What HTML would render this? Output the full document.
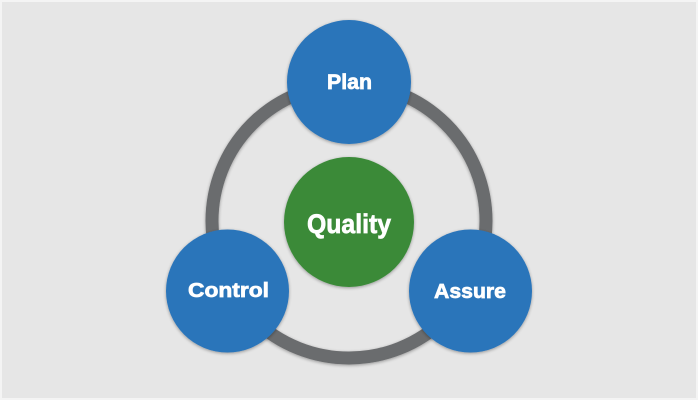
<!DOCTYPE html>
<html>
<head>
<meta charset="utf-8">
<style>
  html, body { margin: 0; padding: 0; background: #f4f4f4; }
  body { width: 698px; height: 400px; overflow: hidden; }
  svg { display: block; }
  text { font-family: "Liberation Sans", "DejaVu Sans", sans-serif; font-weight: bold; fill: #ffffff; stroke: #ffffff; stroke-width: 0.7; }
</style>
</head>
<body>
<svg width="698" height="400" viewBox="0 0 698 400" xmlns="http://www.w3.org/2000/svg">
  <defs>
    <filter id="sh" x="-20%" y="-20%" width="140%" height="140%">
      <feGaussianBlur in="SourceAlpha" stdDeviation="1.5"/>
      <feOffset dx="0" dy="1" result="b"/>
      <feComponentTransfer><feFuncA type="linear" slope="0.35"/></feComponentTransfer>
      <feMerge><feMergeNode/><feMergeNode in="SourceGraphic"/></feMerge>
    </filter>
  </defs>
  <rect x="2" y="2" width="694" height="396" fill="#e6e6e6"/>
  <circle cx="349" cy="221" r="137" fill="none" stroke="#6b6c6e" stroke-width="13" filter="url(#sh)"/>
  <circle cx="349" cy="82" r="62" fill="#2a74ba" filter="url(#sh)"/>
  <circle cx="227.5" cy="291" r="61.5" fill="#2a74ba" filter="url(#sh)"/>
  <circle cx="470.5" cy="291" r="61.5" fill="#2a74ba" filter="url(#sh)"/>
  <circle cx="349" cy="222" r="65" fill="#3a8a38" filter="url(#sh)"/>
  <text x="349.5" y="89" font-size="21" text-anchor="middle" textLength="45" lengthAdjust="spacingAndGlyphs">Plan</text>
  <text x="349" y="233" font-size="27" text-anchor="middle" textLength="84" lengthAdjust="spacingAndGlyphs">Quality</text>
  <text x="228.5" y="297" font-size="20" text-anchor="middle" textLength="81" lengthAdjust="spacingAndGlyphs">Control</text>
  <text x="470" y="298" font-size="20.5" text-anchor="middle" textLength="72" lengthAdjust="spacingAndGlyphs">Assure</text>
</svg>
</body>
</html>
